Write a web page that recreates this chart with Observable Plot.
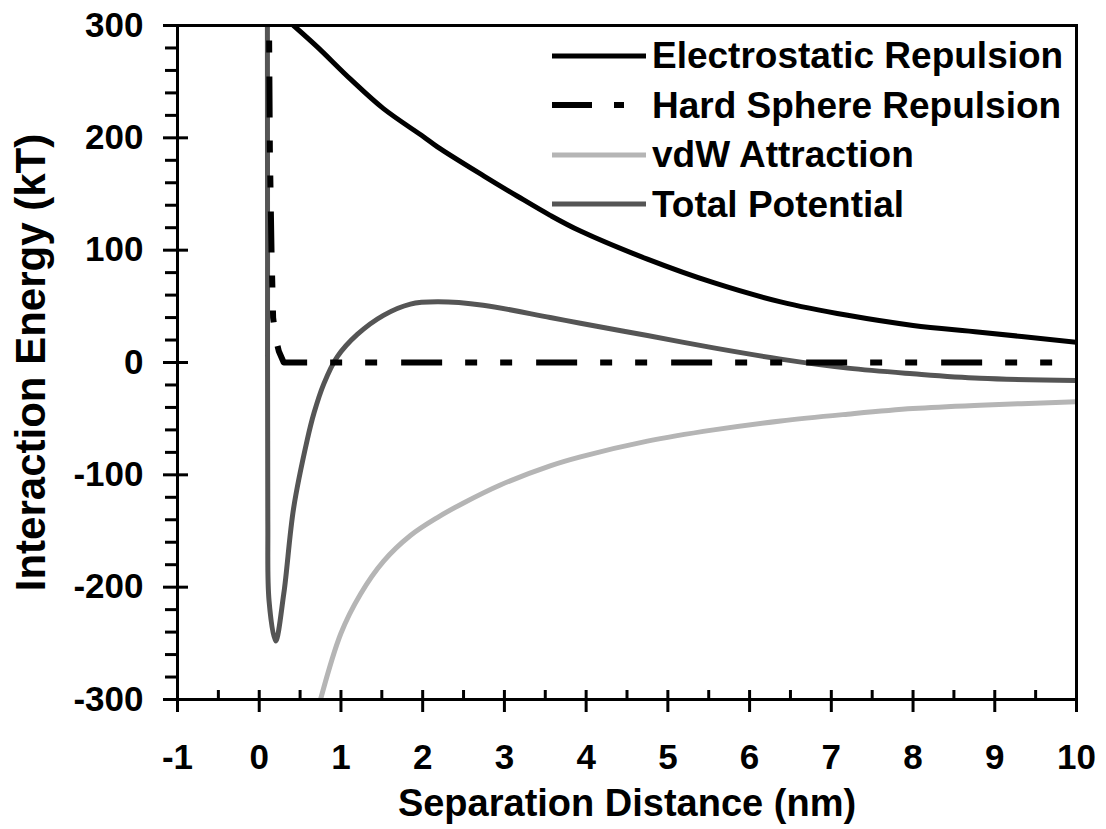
<!DOCTYPE html>
<html>
<head>
<meta charset="utf-8">
<script src="https://cdn.jsdelivr.net/npm/d3@7"></script>
<script src="https://cdn.jsdelivr.net/npm/@observablehq/plot@0.6"></script>
<style>
  body { margin: 0; background: #fff; }
  #wrap { position: relative; width: 1106px; height: 829px; font-family: "Liberation Sans", Arial, sans-serif; font-weight: bold; color: #000; }
  #wrap svg.plot { position: absolute; left: 0; top: 0; }
  #legend { position: absolute; left: 552px; top: 31px; }
  .row { display: flex; align-items: center; height: 49.5px; }
  .row span { font-size: 37px; margin-left: 6px; line-height: 1; white-space: nowrap; }
  .row svg { display: block; }
</style>
</head>
<body>
<div id="wrap"><div id="legend"></div></div>
<script>
// ---- Data ----
const seriesNames = ["Electrostatic Repulsion", "Hard Sphere Repulsion", "vdW Attraction", "Total Potential"];

const elecX = [0.42, 0.71, 1.12, 1.52, 2.01, 2.18, 2.75, 3.16, 3.56, 3.93, 4.75, 5.56, 6.38, 7.2, 8.0, 8.82, 10];
const elecY = [300, 281, 252, 226, 201, 192, 166, 148, 131, 117, 92, 71, 54, 42, 33, 27, 18];

const hardX = [0.12, 0.13, 0.15, 0.17, 0.2, 0.24, 0.3, 10];
const hardY = [300, 190, 100, 40, 22, 10, 0, 0];

const vdwX = [0.75, 1.0, 1.24, 1.52, 1.85, 2.18, 2.5, 2.95, 3.56, 3.93, 4.75, 5.56, 6.38, 7.2, 8.0, 8.82, 10];
const vdwY = [-300, -241, -206, -177, -154, -138, -125, -109, -92, -84, -70, -60, -52, -46, -41, -38, -35];

const totalX = [0.1, 0.102, 0.105, 0.12, 0.2, 0.3, 0.42, 0.587, 0.67, 0.79, 0.954, 1.2, 1.52, 1.85, 2.18, 2.74, 3.56, 3.93, 4.75, 5.56, 6.38, 7.2, 8.0, 8.82, 10];
const totalY = [300, 100, -140, -212, -248, -206, -130, -69, -45, -19, 5, 25, 42, 52, 54, 51, 40, 35, 24, 13, 3, -5, -10, -14, -16];

const xMajorTicks = [-1, 0, 1, 2, 3, 4, 5, 6, 7, 8, 9, 10];
const xMinorTicks = [-0.5, 0.5, 1.5, 2.5, 3.5, 4.5, 5.5, 6.5, 7.5, 8.5, 9.5];
const yMajorTicks = [-300, -200, -100, 0, 100, 200, 300];
const yMinorTicks = [-280, -260, -240, -220, -180, -160, -140, -120, -80, -60, -40, -20,
                     20, 40, 60, 80, 120, 140, 160, 180, 220, 240, 260, 280];

const xTitle = "Separation Distance (nm)";
const yTitle = "Interaction Energy (kT)";

// ---- Styles ----
const styles = [
  {stroke: "#000", strokeWidth: 5, dash: null},
  {stroke: "#000", strokeWidth: 6, dash: "12,23,12,24,41,23"},
  {stroke: "#b5b5b5", strokeWidth: 5, dash: null},
  {stroke: "#555", strokeWidth: 5, dash: null}
];

const zip = (xs, ys) => xs.map((x, i) => ({x, y: ys[i]}));
const elec = zip(elecX, elecY);
const hard = zip(hardX, hardY);
const vdw = zip(vdwX, vdwY);
const total = zip(totalX, totalY);

const fontFamily = '"Liberation Sans", Arial, sans-serif';
const fmt = d => String(d);

const chart = Plot.plot({
  width: 1106,
  height: 829,
  marginLeft: 177,
  marginRight: 30,
  marginTop: 25,
  marginBottom: 130,
  style: {fontFamily, fontWeight: "bold", color: "#000", background: "#fff", overflow: "visible"},
  x: {domain: [-1, 10]},
  y: {domain: [-300, 300]},
  marks: [
    Plot.line(vdw, {x: "x", y: "y", stroke: styles[2].stroke, strokeWidth: styles[2].strokeWidth, curve: "catmull-rom", clip: true}),
    Plot.line(total, {x: "x", y: "y", stroke: styles[3].stroke, strokeWidth: styles[3].strokeWidth, curve: "catmull-rom", clip: true}),
    Plot.line(hard, {x: "x", y: "y", stroke: styles[1].stroke, strokeWidth: styles[1].strokeWidth,
      strokeDasharray: styles[1].dash, strokeDashoffset: 20, strokeLinecap: "butt", clip: true}),
    Plot.line(elec, {x: "x", y: "y", stroke: styles[0].stroke, strokeWidth: styles[0].strokeWidth, curve: "catmull-rom", clip: true}),
    Plot.frame({stroke: "#000", strokeWidth: 3}),
    // y axis: minor (outside), major (crossing), labels, title
    Plot.axisY(yMinorTicks, {tickSize: 12, fill: "none", strokeWidth: 3, label: null}),
    Plot.axisY(yMajorTicks, {tickSize: 25, dx: 11, fill: "none", strokeWidth: 3, label: null}),
    Plot.axisY(yMajorTicks, {tickSize: 0, tickPadding: 34, tickFormat: fmt, fontSize: 35, label: null}),
    Plot.axisY([], {tickSize: 0, fontSize: 42, label: yTitle, labelAnchor: "center", labelOffset: 162, labelArrow: "none"}),
    // x axis: minor (inside), major (crossing), labels, title
    Plot.axisX(xMinorTicks, {tickSize: 9, dy: -9, fill: "none", strokeWidth: 3, label: null}),
    Plot.axisX(xMajorTicks, {tickSize: 22, dy: -9, fill: "none", strokeWidth: 3, label: null}),
    Plot.axisX(xMajorTicks, {tickSize: 0, tickPadding: 45, tickFormat: fmt, fontSize: 35, label: null}),
    Plot.axisX([], {tickSize: 0, fontSize: 38, label: xTitle, labelAnchor: "center", labelOffset: 116, labelArrow: "none"})
  ]
});
chart.classList.add("plot");
const wrap = document.getElementById("wrap");
wrap.insertBefore(chart, wrap.firstChild);

// ---- Legend (HTML overlay inside the plot frame) ----
const legend = document.getElementById("legend");
seriesNames.forEach((name, i) => {
  const s = styles[i];
  const row = document.createElement("div");
  row.className = "row";
  const dash = i === 1 ? ' stroke-dasharray="40,22,10,200"' : "";
  row.innerHTML = `<svg width="94" height="10"><line x1="0" x2="94" y1="5" y2="5" stroke="${s.stroke}" stroke-width="${s.strokeWidth}"${dash}/></svg><span>${name}</span>`;
  legend.appendChild(row);
});
</script>
</body>
</html>
